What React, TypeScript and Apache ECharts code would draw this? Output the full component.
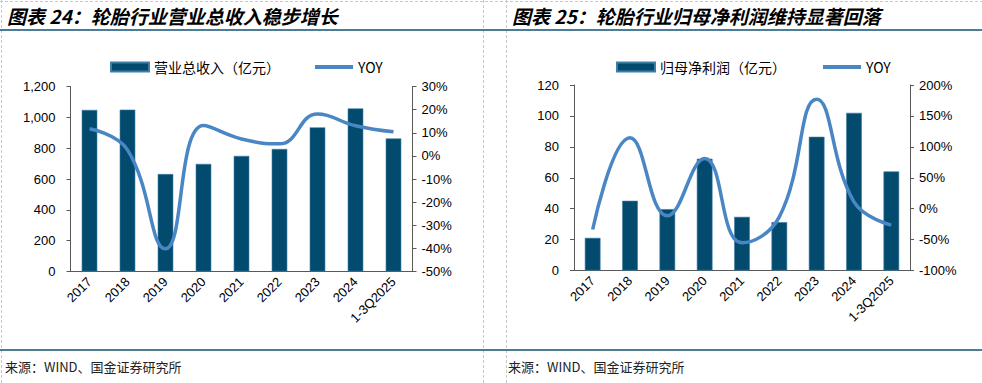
import React, { useEffect, useRef } from "react";
import * as echarts from "echarts";

const categories = ["2017", "2018", "2019", "2020", "2021", "2022", "2023", "2024", "1-3Q2025"];
const revenue = [1048, 1050, 632, 698, 750, 795, 935, 1058, 863];
const revenueYoy = [11.7, 2.6, -40.2, 13.1, 7.3, 5.2, 18.1, 13.0, 10.4];
const profit = [21.1, 45.1, 39.7, 72.3, 34.7, 31.3, 86.5, 102, 64.1];
const profitYoy = [-33.7, 114.6, -11.6, 81.2, -55.3, -13.2, 176.8, 11, -26.7];

const leftTitle = "图表 24：轮胎行业营业总收入稳步增长";
const rightTitle = "图表 25：轮胎行业归母净利润维持显著回落";
const leftBarName = "营业总收入（亿元）";
const rightBarName = "归母净利润（亿元）";
const lineName = "YOY";
const sourceText = "来源：WIND、国金证券研究所";

const BAR = "#024b6f";
const LINE = "#4a86c4";
const AXIS = "#595959";
const CJK = '"Noto Sans CJK SC", sans-serif';
const LAT = '"Liberation Sans", Arial, sans-serif';

export default function App() {
  const ref = useRef<HTMLDivElement>(null);
  useEffect(() => {
    const chart = echarts.init(ref.current!, null, { renderer: "svg" });
    const axisLabel = { color: "#000", fontFamily: LAT, fontSize: 13 };
    const xAxisBase = (gridIndex: number) => ({
      type: "category",
      gridIndex,
      data: categories,
      axisLine: { lineStyle: { color: AXIS, width: 1 } },
      axisTick: { inside: true, length: 4, lineStyle: { color: AXIS } },
      axisLabel: { ...axisLabel, rotate: 45, margin: 8, interval: 0 },
    });
    const yAxisBase = (gridIndex: number, min: number, max: number, interval: number, fmt: (v: number) => string, position: string) => ({
      type: "value",
      gridIndex,
      min,
      max,
      interval,
      position,
      splitLine: { show: false },
      axisLine: { show: true, lineStyle: { color: AXIS, width: 1 } },
      axisTick: { show: true, length: 4, lineStyle: { color: AXIS } },
      axisLabel: { ...axisLabel, formatter: fmt, margin: position === "left" ? 15 : 9 },
    });
    const legendText = { fontFamily: CJK, fontSize: 14, color: "#000" };
    const lineLegendItem = (name: string) => ({ name, itemStyle: { opacity: 0 }, lineStyle: { width: 4, color: LINE } });
    chart.setOption({
      animation: false,
      grid: [
        { left: 70.5, right: 569.5, top: 86.5, bottom: 111.5 },
        { left: 574, right: 72, top: 85, bottom: 112.5 },
      ],
      legend: [
        {
          left: 105,
          top: 55,
          itemWidth: 38,
          itemHeight: 9,
          itemGap: 33,
          textStyle: legendText,
          data: [{ name: leftBarName, icon: "rect" }, lineLegendItem(lineName + " ")],
        },
        {
          left: 611,
          top: 55,
          itemWidth: 38,
          itemHeight: 9,
          itemGap: 35,
          textStyle: legendText,
          data: [{ name: rightBarName, icon: "rect" }, lineLegendItem(lineName + "  ")],
        },
      ],
      xAxis: [xAxisBase(0), xAxisBase(1)],
      yAxis: [
        yAxisBase(0, 0, 1200, 200, (v) => v.toLocaleString("en-US"), "left"),
        yAxisBase(0, -50, 30, 10, (v) => v + "%", "right"),
        yAxisBase(1, 0, 120, 20, (v) => String(v), "left"),
        yAxisBase(1, -100, 200, 50, (v) => v + "%", "right"),
      ],
      series: [
        { name: leftBarName, type: "bar", xAxisIndex: 0, yAxisIndex: 0, data: revenue, barWidth: "41%", itemStyle: { color: BAR, borderColor: "#3f7fa6", borderWidth: 0.6 } },
        { name: lineName + " ", type: "line", xAxisIndex: 0, yAxisIndex: 1, data: revenueYoy, smooth: 0.45, symbol: "none", lineStyle: { color: LINE, width: 3.5 }, itemStyle: { color: LINE } },
        { name: rightBarName, type: "bar", xAxisIndex: 1, yAxisIndex: 2, data: profit, barWidth: "42%", itemStyle: { color: BAR, borderColor: "#3f7fa6", borderWidth: 0.6 } },
        { name: lineName + "  ", type: "line", xAxisIndex: 1, yAxisIndex: 3, data: profitYoy, smooth: 0.45, symbol: "none", lineStyle: { color: LINE, width: 3.5 }, itemStyle: { color: LINE } },
      ],
      graphic: [
        { type: "line", shape: { x1: 0, y1: 1.5, x2: 982, y2: 1.5 }, style: { stroke: "#c8c8c8", lineWidth: 1, lineDash: [3, 2] } },
        { type: "line", shape: { x1: 1.5, y1: 0, x2: 1.5, y2: 383 }, style: { stroke: "#c8c8c8", lineWidth: 1, lineDash: [3, 2] } },
        { type: "line", shape: { x1: 483.5, y1: 0, x2: 483.5, y2: 383 }, style: { stroke: "#c8c8c8", lineWidth: 1, lineDash: [3, 2] } },
        { type: "line", shape: { x1: 506.5, y1: 0, x2: 506.5, y2: 383 }, style: { stroke: "#c8c8c8", lineWidth: 1, lineDash: [3, 2] } },
        { type: "line", shape: { x1: 0, y1: 30, x2: 982, y2: 30 }, style: { stroke: "#0f5276", lineWidth: 1.5 } },
        { type: "line", shape: { x1: 0, y1: 350, x2: 982, y2: 350 }, style: { stroke: "#0f5276", lineWidth: 1.5 } },
        { type: "text", x: 7, y: 15, style: { text: leftTitle, fontFamily: CJK, fontSize: 19, fontWeight: "bold", fontStyle: "italic", fill: "#000", verticalAlign: "middle" } },
        { type: "text", x: 512, y: 15, style: { text: rightTitle, fontFamily: CJK, fontSize: 19, fontWeight: "bold", fontStyle: "italic", fill: "#000", verticalAlign: "middle" } },
        { type: "text", x: 5, y: 366, style: { text: sourceText, fontFamily: CJK, fontSize: 13, fill: "#222", verticalAlign: "middle" } },
        { type: "text", x: 508, y: 366, style: { text: sourceText, fontFamily: CJK, fontSize: 13, fill: "#222", verticalAlign: "middle" } },
      ],
    });
    return () => chart.dispose();
  }, []);
  return (
    <div style={{ position: "fixed", left: 0, top: 0, width: 982, height: 383, background: "#fff" }}>
      <div ref={ref} style={{ width: 982, height: 383 }} />
    </div>
  );
}
